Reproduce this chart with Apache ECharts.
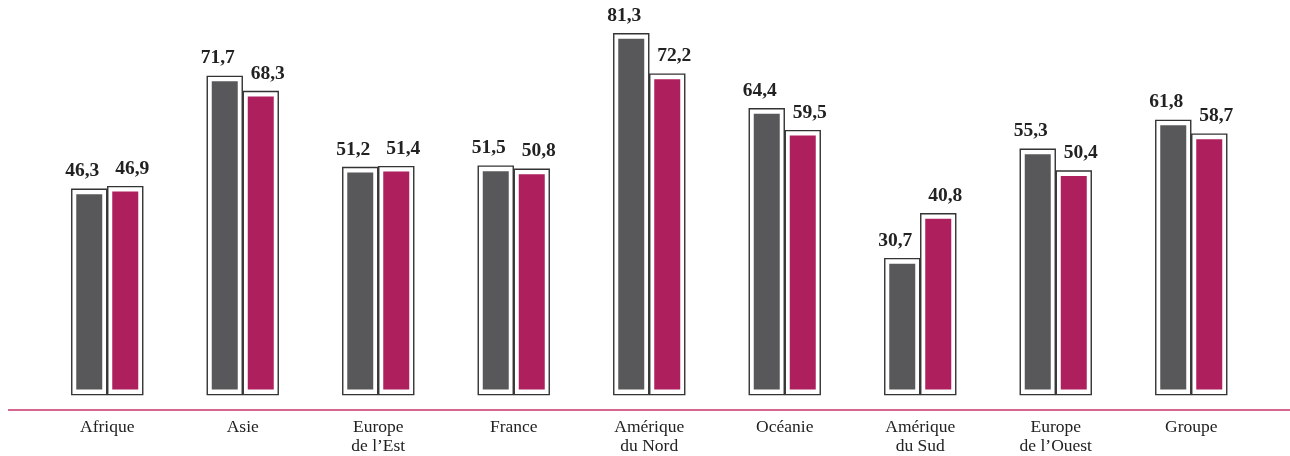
<!DOCTYPE html>
<html>
<head>
<meta charset="utf-8">
<script src="https://cdn.jsdelivr.net/npm/echarts@6/dist/echarts.min.js"></script>
<style>
html,body{margin:0;padding:0;background:#fff;}
#chart{width:1290px;height:456px;}
</style>
</head>
<body>
<div id="chart"></div>
<script>
const categories = ["Afrique", "Asie", "Europe\nde l’Est", "France", "Amérique\ndu Nord", "Océanie", "Amérique\ndu Sud", "Europe\nde l’Ouest", "Groupe"];
const seriesA = [46.3, 71.7, 51.2, 51.5, 81.3, 64.4, 30.7, 55.3, 61.8];
const seriesB = [46.9, 68.3, 51.4, 50.8, 72.2, 59.5, 40.8, 50.4, 58.7];

const GRAY = '#58585a';
const MAGENTA = '#ae1f5e';
const BORDER = '#333333';

function fmt(v){ return v.toFixed(1).replace('.', ','); }

function makeRender(sign, color){
  return function(params, api){
    const idx = api.value(0);
    const v = api.value(1);
    const top = api.coord([idx, v]);
    const zero = api.coord([idx, 0]);
    const cx = top[0];
    const outerW = 36;
    const x0 = sign < 0 ? cx - outerW : cx;
    const outerTop = top[1] - 5;
    const outerBottom = zero[1] - 5.5;
    const innerBottom = zero[1] - 10.5;
    return {
      type: 'group',
      children: [
        {
          type: 'rect',
          shape: {x: x0 + 0.5, y: outerTop, width: outerW - 1, height: outerBottom - outerTop},
          style: {fill: '#fff', stroke: BORDER, lineWidth: 1.4}
        },
        {
          type: 'rect',
          shape: {x: x0 + 5, y: top[1], width: outerW - 10, height: innerBottom - top[1]},
          style: {fill: color}
        },
        {
          type: 'text',
          x: x0 + outerW / 2 + sign * 7,
          y: outerTop - 8,
          style: {
            text: fmt(v),
            fill: '#222',
            font: 'bold 19.5px "Liberation Serif", serif',
            textAlign: 'center',
            textVerticalAlign: 'bottom'
          }
        }
      ]
    };
  };
}

const chart = echarts.init(document.getElementById('chart'));
chart.setOption({
  animation: false,
  grid: {left: 39.5, right: 31, top: 0, bottom: 44},
  xAxis: {
    type: 'category',
    data: categories,
    axisLine: {show: false},
    axisTick: {show: false},
    axisLabel: {
      color: '#222',
      fontFamily: '"Liberation Serif", serif',
      fontSize: 17.5,
      lineHeight: 19,
      margin: 9,
      interval: 0
    }
  },
  yAxis: {
    type: 'value',
    min: -2,
    max: 90,
    show: false,
    splitLine: {show: false}
  },
  graphic: [{
    type: 'line',
    shape: {x1: 8, y1: 410, x2: 1290, y2: 410},
    style: {stroke: '#c8326a', lineWidth: 1.6}
  }],
  series: [
    {
      type: 'custom',
      renderItem: makeRender(-1, GRAY),
      encode: {x: 0, y: 1},
      data: seriesA.map((v, i) => [i, v])
    },
    {
      type: 'custom',
      renderItem: makeRender(1, MAGENTA),
      encode: {x: 0, y: 1},
      data: seriesB.map((v, i) => [i, v])
    }
  ]
});
</script>
</body>
</html>
